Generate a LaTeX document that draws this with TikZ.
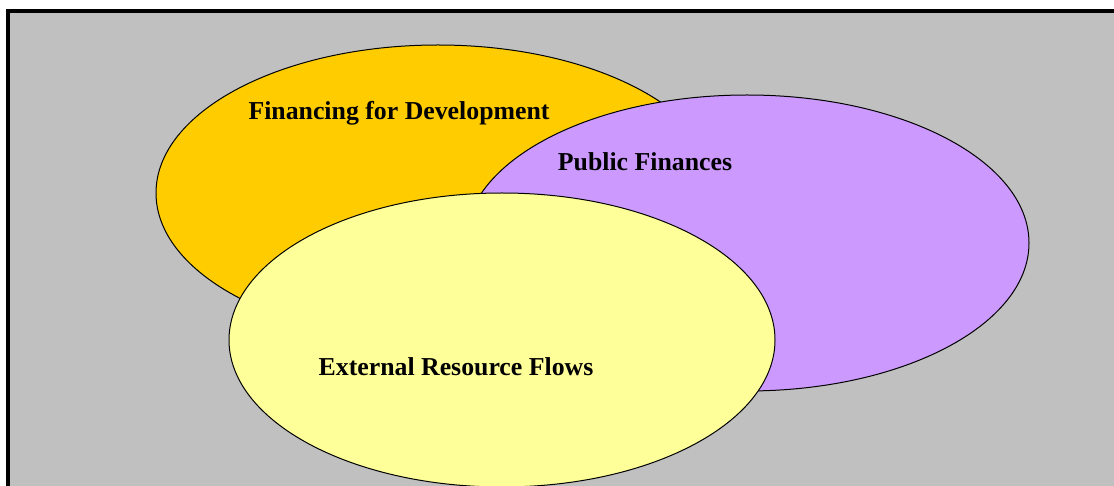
\documentclass[tikz,border=0pt]{standalone}
\usepackage{fontspec}
\setmainfont{Liberation Serif}
\definecolor{panelgray}{HTML}{C0C0C0}
\definecolor{fdorange}{HTML}{FFCC00}
\definecolor{pfviolet}{HTML}{CC99FF}
\definecolor{erfyellow}{HTML}{FFFF99}

\begin{document}
\begin{tikzpicture}[x=1pt,y=-1pt,
  blob/.style={draw=black,line width=1pt},
  label/.style={font=\bfseries\fontsize{25.8}{30}\selectfont,inner sep=0pt}]
\pgfmathsetmacro\rx{282}
\pgfmathsetmacro\ry{148}
\useasboundingbox (0,0) rectangle (1114,486);
\clip (0,0) rectangle (1114,486);
\fill[white] (0,0) rectangle (1114,486);
% frame, cut off at the right and bottom
\draw[line width=3.8pt,fill=panelgray] (8.3,10.7) rectangle (1140,510);

\draw[blob,fill=fdorange] (438,193) ellipse [x radius=\rx pt, y radius=\ry pt];
\draw[blob,fill=pfviolet] (747,243) ellipse [x radius=\rx pt, y radius=\ry pt];
\draw[blob,fill=erfyellow] (502,340) ellipse [x radius=273pt, y radius=147pt];

\node[label] (fdlabel) at (399,113) {Financing for Development};
\node[label] (pflabel) at (645,162) {Public Finances};
\node[label] (erflabel) at (456,367) {External Resource Flows};
\end{tikzpicture}
\end{document}
